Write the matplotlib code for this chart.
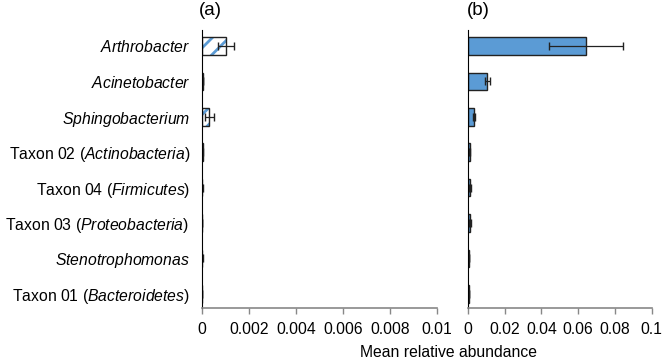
import matplotlib
matplotlib.use('Agg')
import matplotlib.pyplot as plt
import numpy as np

plt.rcParams['font.family'] = ['Liberation Sans', 'DejaVu Sans']
plt.rcParams['mathtext.fontset'] = 'custom'
plt.rcParams['mathtext.rm'] = 'Liberation Sans'
plt.rcParams['mathtext.it'] = 'Liberation Sans:italic'
plt.rcParams['hatch.linewidth'] = 2.0

# taxa, top to bottom
taxa = [r'$\mathit{Arthrobacter}$',
        r'$\mathit{Acinetobacter}$',
        r'$\mathit{Sphingobacterium}$',
        r'Taxon 02 ($\mathit{Actinobacteria}$)',
        r'Taxon 04 ($\mathit{Firmicutes}$)',
        r'Taxon 03 ($\mathit{Proteobacteria}$) ',
        r'$\mathit{Stenotrophomonas}$',
        r'Taxon 01 ($\mathit{Bacteroidetes}$)']
# panel (a)
mean_a = [0.00102, 0.00004, 0.00031, 0.00003, 0.00002, 0.0, 0.00002, 0.00001]
err_a = [0.00033, 0.00001, 0.00018, 0.00001, 0.00001, 0.0, 0.00001, 0.0]
# panel (b)
mean_b = [0.0641, 0.0106, 0.0032, 0.0010, 0.0012, 0.0012, 0.0006, 0.0006]
err_b = [0.0202, 0.0012, 0.0006, 0.0002, 0.0004, 0.0004, 0.0001, 0.0001]
ticks_a = [0, 0.002, 0.004, 0.006, 0.008, 0.01]
ticks_b = [0, 0.02, 0.04, 0.06, 0.08, 0.1]

blue = '#5B9BD5'
fs = 11.3
fig = plt.figure(figsize=(6.63, 3.59), dpi=100)
ax1 = fig.add_axes([0.3047, 0.142, 0.3545, 0.7744])
ax2 = fig.add_axes([0.7059, 0.142, 0.277, 0.7744])
ypos = np.arange(len(taxa))

# hatched fill first, then a black outline on top
ax1.barh(ypos, mean_a, height=0.5, color='white', edgecolor=blue, linewidth=0, hatch='//')
ax1.barh(ypos, mean_a, height=0.5, color='none', edgecolor='#222222', linewidth=1)
ax1.errorbar(mean_a, ypos, xerr=err_a, fmt='none', ecolor='#222222', elinewidth=0.9, capsize=3)
ax2.barh(ypos, mean_b, height=0.5, color=blue, edgecolor='#222222', linewidth=1)
ax2.errorbar(mean_b, ypos, xerr=err_b, fmt='none', ecolor='#222222', elinewidth=0.9, capsize=3)

for ax, ticks in [(ax1, ticks_a), (ax2, ticks_b)]:
    ax.set_ylim(7.4, -0.45)
    ax.set_xlim(0, ticks[-1])
    ax.set_xticks(ticks)
    ax.set_xticklabels(['0'] + [('%g' % t) for t in ticks[1:]], fontsize=fs)
    ax.spines['top'].set_visible(False)
    ax.spines['right'].set_visible(False)
    ax.spines['bottom'].set_color('#888888')
    ax.spines['bottom'].set_linewidth(1.2)
    ax.spines['left'].set_color('black')
    ax.tick_params(axis='x', colors='#888888', length=4, width=1, labelcolor='black', pad=6)
    ax.tick_params(axis='y', length=0, pad=8.5)

ax1.set_yticks(ypos)
ax1.set_yticklabels(taxa, fontsize=fs)
ax2.set_yticks([])

fig.text(0.300, 0.97, '(a)', ha='left', va='center', fontsize=13.5)
fig.text(0.704, 0.97, '(b)', ha='left', va='center', fontsize=13.5)
fig.text(0.677, 0.017, 'Mean relative abundance', ha='center', va='center', fontsize=fs)

plt.savefig('out.png', dpi=100)
plt.close()
